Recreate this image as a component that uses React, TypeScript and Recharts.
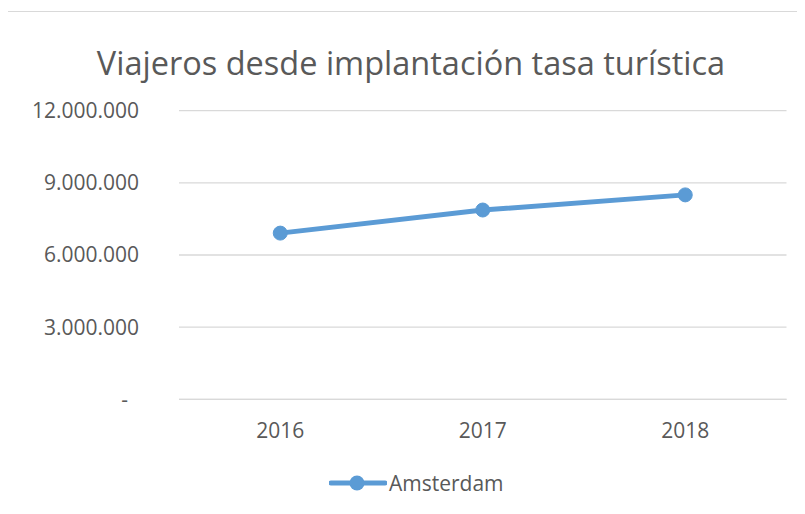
import React from 'react';
import { LineChart, Line, XAxis, YAxis, CartesianGrid, Legend } from 'recharts';

const title = 'Viajeros desde implantación tasa turística';
const years = ['2016', '2017', '2018'];
const amsterdam = [6910000, 7870000, 8500000];
const yTicks = [0, 3000000, 6000000, 9000000, 12000000];
const seriesName = 'Amsterdam';

const data = years.map((y, i) => ({ year: y, [seriesName]: amsterdam[i] }));

const FONT = '"Open Sans", sans-serif';
const TXT = '#595959';
const GRID = '#D9D9D9';
const BLUE = '#5B9BD5';

const fmt = (v: number) => (v === 0 ? '-' : String(v).replace(/\B(?=(\d{3})+(?!\d))/g, '.'));

const YTick = (props: any) => {
  const { x, y, payload } = props;
  const v = payload.value;
  return (
    <text x={v === 0 ? x - 11 : x} y={y} dy="0.355em" textAnchor="end" fill={TXT} fontSize={21} fontFamily={FONT}>
      {fmt(v)}
    </text>
  );
};

const LegendContent = () => (
  <div style={{ display: 'flex', alignItems: 'center', height: 30, paddingLeft: 321 }}>
    <svg width={58} height={18} style={{ display: 'block' }}>
      <line x1={2} y1={9} x2={56} y2={9} stroke={BLUE} strokeWidth={5} strokeLinecap="round" />
      <circle cx={28} cy={9} r={7.5} fill={BLUE} />
    </svg>
    <span style={{ fontFamily: FONT, fontSize: 21, color: TXT, marginLeft: 2, lineHeight: '30px' }}>{seriesName}</span>
  </div>
);

export default function App() {
  return (
    <div style={{ position: 'relative', width: 797, height: 498, overflow: 'hidden', background: '#fff' }}>
      <div
        style={{
          position: 'absolute',
          left: -1,
          top: 3,
          width: 900,
          height: 600,
          borderLeft: `1px solid ${GRID}`,
          borderTop: `1px solid ${GRID}`,
        }}
      />
      <svg width={797} height={100} style={{ position: 'absolute', left: 0, top: 0 }}>
        <text x={403} y={67} textAnchor="middle" fill={TXT} fontSize={32.5} fontFamily={FONT}>
          {title}
        </text>
      </svg>
      <div style={{ position: 'absolute', left: 0, top: 0 }}>
        <LineChart width={797} height={498} data={data} margin={{ top: 102.7, right: 18.5, left: 0, bottom: 8 }}>
          <CartesianGrid vertical={false} stroke={GRID} strokeWidth={1.3} />
          <XAxis
            dataKey="year"
            scale="band"
            height={68.7}
            axisLine={{ stroke: GRID, strokeWidth: 1.3 }}
            tickLine={false}
            tickSize={0}
            tickMargin={24}
            tick={{ fill: TXT, fontSize: 21, fontFamily: FONT }}
          />
          <YAxis
            width={171}
            domain={[0, 12000000]}
            ticks={yTicks}
            axisLine={false}
            tickLine={false}
            tickSize={0}
            tickMargin={40}
            tick={<YTick />}
          />
          <Legend verticalAlign="bottom" height={30} wrapperStyle={{ left: 0, width: 797 }} content={<LegendContent />} />
          <Line
            type="linear"
            dataKey={seriesName}
            stroke={BLUE}
            strokeWidth={5}
            dot={{ r: 7, fill: BLUE, stroke: BLUE, strokeWidth: 1 }}
            activeDot={false}
            isAnimationActive={false}
          />
        </LineChart>
      </div>
    </div>
  );
}
